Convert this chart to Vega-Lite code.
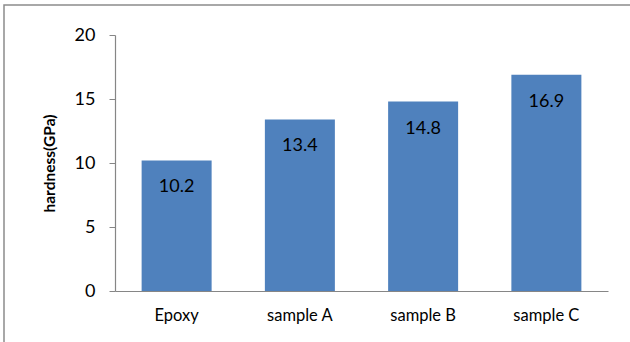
{
  "$schema": "https://vega.github.io/schema/vega-lite/v6.json",
  "width": 630,
  "height": 342,
  "padding": {"left": 4, "top": 5, "right": 0, "bottom": 0},
  "autosize": {"type": "none"},
  "data": {
    "values": [
      {"sample": "Epoxy", "hardness": 10.2},
      {"sample": "sample A", "hardness": 13.4},
      {"sample": "sample B", "hardness": 14.8},
      {"sample": "sample C", "hardness": 16.9}
    ]
  },
  "encoding": {
    "x": {
      "field": "sample",
      "type": "nominal",
      "sort": null,
      "scale": {"range": [111, 604], "paddingInner": 0.432, "paddingOuter": 0.216},
      "axis": {
        "title": null,
        "orient": "bottom",
        "offset": -56,
        "labelAngle": 0,
        "ticks": false,
        "labelPadding": 16,
        "labelFontSize": 16.5,
        "domainColor": "#868686",
        "domainWidth": 1.2
      }
    },
    "y": {
      "field": "hardness",
      "type": "quantitative",
      "scale": {"domain": [0, 20], "range": [286, 30], "nice": false},
      "axis": {
        "title": "hardness(GPa)",
        "orient": "left",
        "offset": -111,
        "values": [0, 5, 10, 15, 20],
        "grid": false,
        "tickSize": 6,
        "tickColor": "#868686",
        "domainColor": "#868686",
        "domainWidth": 1.2,
        "labelPadding": 14,
        "labelFontSize": 18,
        "titleFontWeight": "bold",
        "titleFontSize": 15.5,
        "titlePadding": 17
      }
    }
  },
  "layer": [
    {"mark": {"type": "bar", "color": "#4F81BD"}},
    {
      "mark": {"type": "text", "baseline": "middle", "dy": 27, "font": "Lato", "fontSize": 18, "color": "#000000"},
      "encoding": {"text": {"field": "hardness", "type": "quantitative", "format": ".1f"}}
    }
  ],
  "config": {
    "view": {"stroke": "#8c8c8c", "strokeWidth": 1.5},
    "font": "Lato",
    "axis": {
      "labelFont": "Lato",
      "labelColor": "#000000",
      "titleFont": "Lato",
      "titleColor": "#000000"
    }
  }
}
